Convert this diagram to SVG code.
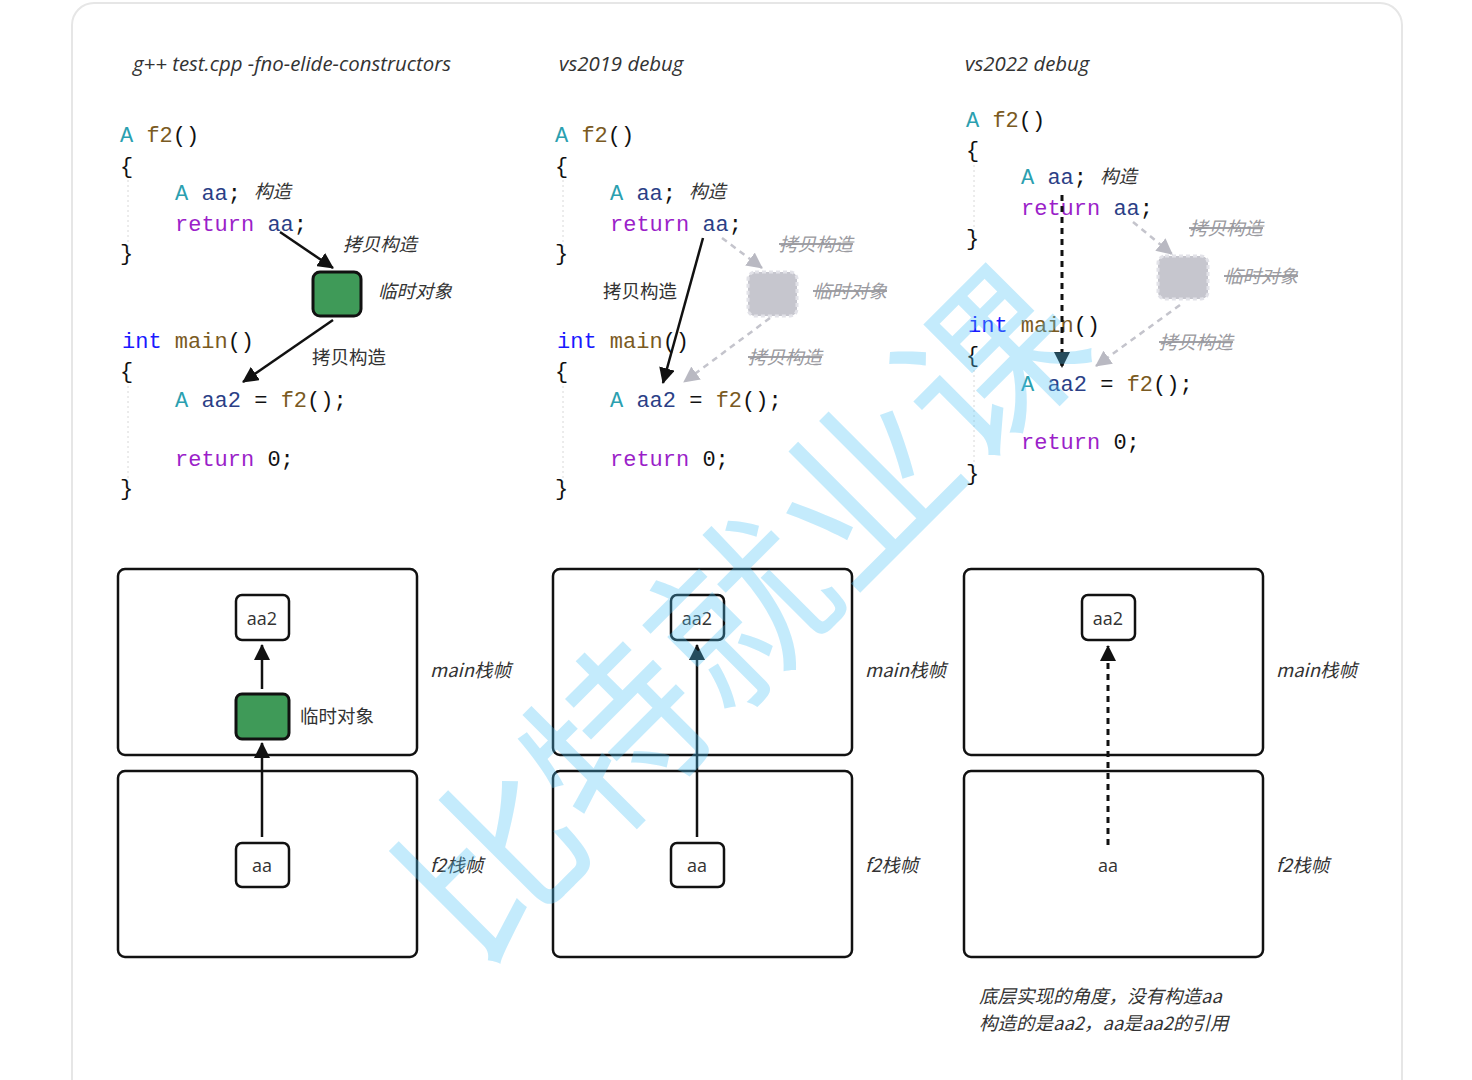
<svg xmlns="http://www.w3.org/2000/svg" width="1472" height="1080" viewBox="0 0 1472 1080">
<style>
.code{font-family:"Liberation Mono","DejaVu Sans Mono",monospace;font-size:22px;white-space:pre}
.t{fill:#2b9fb0}.fn{fill:#7a5a22}.kw{fill:#9b1fc9}.in{fill:#1a1aff}.v{fill:#2b3f86}.p{fill:#111}
.title{font-family:"Open Sans","Liberation Sans",sans-serif;font-style:italic;font-size:20.4px;fill:#333}
.lbl{font-family:"Noto Sans CJK SC",sans-serif;font-size:18.5px;fill:#333}
.it{font-style:italic}
.gone{fill:#9a9aa0;text-decoration:line-through}
.frame{fill:none;stroke:#111;stroke-width:2.5}
.box{fill:#fff;stroke:#111;stroke-width:2.5}
.green{fill:#3f9a58;stroke:#111;stroke-width:3}
.ghost{fill:#c6c6ce;stroke:#e2e2e8;stroke-width:3;stroke-dasharray:4 3}
.val{font-family:"Open Sans","Noto Sans",sans-serif;font-size:18px;fill:#333;text-anchor:middle}
.guide{stroke:#d8d8d8;stroke-width:1;stroke-dasharray:2 3}
.arr{stroke:#111;stroke-width:2.5;fill:none;marker-end:url(#ah)}
.dot{stroke:#111;stroke-width:3;fill:none;stroke-dasharray:6 5;marker-end:url(#ah)}
.garr{stroke:#c4c4cc;stroke-width:2.5;fill:none;stroke-dasharray:6 5;marker-end:url(#gh)}
</style>
<defs>
<marker id="ah" markerUnits="userSpaceOnUse" markerWidth="16" markerHeight="16" refX="15" refY="8" orient="auto" viewBox="0 0 16 16"><path d="M0,0 L16,8 L0,16 z" fill="#111"/></marker>
<marker id="gh" markerUnits="userSpaceOnUse" markerWidth="16" markerHeight="16" refX="15" refY="8" orient="auto" viewBox="0 0 16 16"><path d="M0,0 L16,8 L0,16 z" fill="#b9b9c2"/></marker>
</defs>
<rect x="0" y="0" width="1472" height="1080" fill="#fff"/>
<rect id="card" x="72" y="3" width="1330" height="1100" rx="22" fill="#fff" stroke="#e6e6e6" stroke-width="2"/>

<g id="titles">
<text class="title" x="133" y="71">g++ test.cpp -fno-elide-constructors</text>
<text class="title" x="559" y="71">vs2019 debug</text>
<text class="title" x="965" y="71">vs2022 debug</text>
</g>

<g id="code1">
<line class="guide" x1="128" y1="180" x2="128" y2="262"/>
<line class="guide" x1="128" y1="386" x2="128" y2="492"/>
<text class="code" x="120" y="142"><tspan class="t">A</tspan> <tspan class="fn">f2</tspan><tspan class="p">()</tspan></text>
<text class="code p" x="120" y="173">{</text>
<text class="code" x="175" y="200"><tspan class="t">A</tspan> <tspan class="v">aa</tspan><tspan class="p">;</tspan></text>
<text class="lbl it" x="254" y="198">构造</text>
<text class="code" x="175" y="231"><tspan class="kw">return</tspan> <tspan class="v">aa</tspan><tspan class="p">;</tspan></text>
<text class="code p" x="120" y="260">}</text>
<text class="code" x="122" y="348"><tspan class="in">int</tspan> <tspan class="fn">main</tspan><tspan class="p">()</tspan></text>
<text class="code p" x="120" y="378">{</text>
<text class="code" x="175" y="407"><tspan class="t">A</tspan> <tspan class="v">aa2</tspan> <tspan class="p">=</tspan> <tspan class="fn">f2</tspan><tspan class="p">();</tspan></text>
<text class="code" x="175" y="466"><tspan class="kw">return</tspan> <tspan class="p">0;</tspan></text>
<text class="code p" x="120" y="495">}</text>
</g>

<g id="code2">
<line class="guide" x1="563" y1="180" x2="563" y2="262"/>
<line class="guide" x1="563" y1="386" x2="563" y2="492"/>
<text class="code" x="555" y="142"><tspan class="t">A</tspan> <tspan class="fn">f2</tspan><tspan class="p">()</tspan></text>
<text class="code p" x="555" y="173">{</text>
<text class="code" x="610" y="200"><tspan class="t">A</tspan> <tspan class="v">aa</tspan><tspan class="p">;</tspan></text>
<text class="lbl it" x="689" y="198">构造</text>
<text class="code" x="610" y="231"><tspan class="kw">return</tspan> <tspan class="v">aa</tspan><tspan class="p">;</tspan></text>
<text class="code p" x="555" y="260">}</text>
<text class="code" x="557" y="348"><tspan class="in">int</tspan> <tspan class="fn">main</tspan><tspan class="p">()</tspan></text>
<text class="code p" x="555" y="378">{</text>
<text class="code" x="610" y="407"><tspan class="t">A</tspan> <tspan class="v">aa2</tspan> <tspan class="p">=</tspan> <tspan class="fn">f2</tspan><tspan class="p">();</tspan></text>
<text class="code" x="610" y="466"><tspan class="kw">return</tspan> <tspan class="p">0;</tspan></text>
<text class="code p" x="555" y="495">}</text>
</g>

<g id="code3">
<line class="guide" x1="974" y1="165" x2="974" y2="246"/>
<line class="guide" x1="974" y1="370" x2="974" y2="478"/>
<text class="code" x="966" y="127"><tspan class="t">A</tspan> <tspan class="fn">f2</tspan><tspan class="p">()</tspan></text>
<text class="code p" x="966" y="157">{</text>
<text class="code" x="1021" y="184"><tspan class="t">A</tspan> <tspan class="v">aa</tspan><tspan class="p">;</tspan></text>
<text class="lbl it" x="1100" y="183">构造</text>
<text class="code" x="1021" y="215"><tspan class="kw">return</tspan> <tspan class="v">aa</tspan><tspan class="p">;</tspan></text>
<text class="code p" x="966" y="245">}</text>
<text class="code" x="968" y="332"><tspan class="in">int</tspan> <tspan class="fn">main</tspan><tspan class="p">()</tspan></text>
<text class="code p" x="966" y="362">{</text>
<text class="code" x="1021" y="391"><tspan class="t">A</tspan> <tspan class="v">aa2</tspan> <tspan class="p">=</tspan> <tspan class="fn">f2</tspan><tspan class="p">();</tspan></text>
<text class="code" x="1021" y="449"><tspan class="kw">return</tspan> <tspan class="p">0;</tspan></text>
<text class="code p" x="966" y="480">}</text>
</g>

<g id="temp1">
<rect class="green" x="313" y="272" width="48" height="44" rx="7"/>
<text class="lbl it" x="378" y="298">临时对象</text>
</g>
<g id="temp2">
<rect class="ghost" x="748" y="272" width="49" height="44" rx="7"/>
<text class="lbl it gone" x="813" y="298">临时对象</text>
</g>
<g id="temp3">
<rect class="ghost" x="1158" y="256" width="50" height="43" rx="7"/>
<text class="lbl it gone" x="1224" y="283">临时对象</text>
</g>

<g id="connectors">
<line class="arr" x1="280" y1="232" x2="333" y2="268"/>
<line class="arr" x1="333" y1="320" x2="243" y2="382"/>
<line class="arr" x1="703" y1="238" x2="663" y2="383"/>
<line class="garr" x1="722" y1="238" x2="762" y2="268"/>
<line class="garr" x1="770" y1="318" x2="684" y2="382"/>
<line class="dot" x1="1062" y1="195" x2="1062" y2="367"/>
<line class="garr" x1="1133" y1="222" x2="1172" y2="254"/>
<line class="garr" x1="1180" y1="305" x2="1096" y2="366"/>
<line class="arr" x1="262" y1="689" x2="262" y2="645"/>
<line class="arr" x1="262" y1="837" x2="262" y2="743"/>
<line class="arr" x1="697" y1="837" x2="697" y2="645"/>
<line class="dot" x1="1108" y1="845" x2="1108" y2="646"/>
</g>

<g id="arrow-labels">
<text class="lbl it" x="343" y="251">拷贝构造</text>
<text class="lbl" x="312" y="364">拷贝构造</text>
<text class="lbl" x="603" y="298">拷贝构造</text>
<text class="lbl it gone" x="779" y="251">拷贝构造</text>
<text class="lbl it gone" x="748" y="364">拷贝构造</text>
<text class="lbl it gone" x="1189" y="235">拷贝构造</text>
<text class="lbl it gone" x="1159" y="349">拷贝构造</text>
</g>

<g id="stack1">
<rect class="frame" x="118" y="569" width="299" height="186" rx="7"/>
<rect class="frame" x="118" y="771" width="299" height="186" rx="7"/>
<text class="lbl it" x="430" y="677">main栈帧</text>
<text class="lbl it" x="430" y="872">f2栈帧</text>
</g>
<g id="aa2-1"><rect class="box" x="236" y="595" width="53" height="45" rx="6"/><text class="val" x="262" y="625">aa2</text></g>
<g id="tmp-1"><rect class="green" x="236" y="694" width="53" height="45" rx="6"/><text class="lbl" x="300" y="723">临时对象</text></g>
<g id="aa-1"><rect class="box" x="236" y="843" width="53" height="44" rx="6"/><text class="val" x="262" y="872">aa</text></g>

<g id="stack2">
<rect class="frame" x="553" y="569" width="299" height="186" rx="7"/>
<rect class="frame" x="553" y="771" width="299" height="186" rx="7"/>
<text class="lbl it" x="865" y="677">main栈帧</text>
<text class="lbl it" x="865" y="872">f2栈帧</text>
</g>
<g id="aa2-2"><rect class="box" x="671" y="595" width="53" height="45" rx="6"/><text class="val" x="697" y="625">aa2</text></g>
<g id="aa-2"><rect class="box" x="671" y="843" width="53" height="44" rx="6"/><text class="val" x="697" y="872">aa</text></g>

<g id="stack3">
<rect class="frame" x="964" y="569" width="299" height="186" rx="7"/>
<rect class="frame" x="964" y="771" width="299" height="186" rx="7"/>
<text class="lbl it" x="1276" y="677">main栈帧</text>
<text class="lbl it" x="1276" y="872">f2栈帧</text>
</g>
<g id="aa2-3"><rect class="box" x="1082" y="595" width="53" height="45" rx="6"/><text class="val" x="1108" y="625">aa2</text></g>
<g id="aa-3"><text class="val" x="1108" y="872">aa</text></g>

<g id="note">
<text class="lbl it" x="979" y="1003">底层实现的角度，没有构造aa</text>
<text class="lbl it" x="979" y="1030">构造的是aa2，aa是aa2的引用</text>
</g>

<g id="watermark" opacity="0.33">
<text transform="translate(733,605) rotate(-45)" x="0" y="0" text-anchor="middle" dominant-baseline="central" font-family="Noto Sans CJK SC, sans-serif" font-size="176" fill="#4fc3f7">比特就业课</text>
</g>
</svg>
